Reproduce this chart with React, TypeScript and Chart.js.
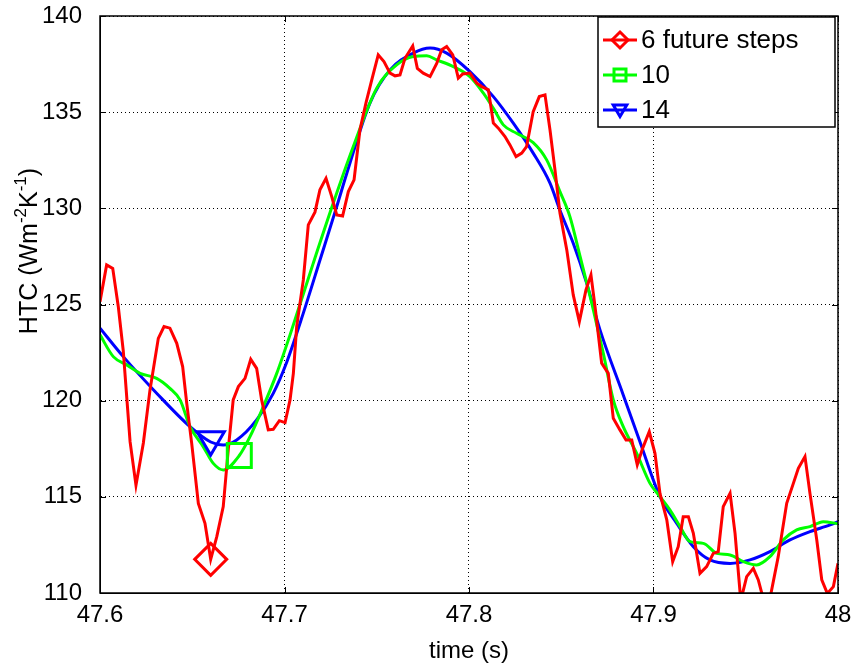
import React, { useEffect, useRef } from "react";
import { Chart, registerables } from "chart.js";

Chart.register(...registerables);

// ---------- data ----------
const seriesLabels = ["6 future steps", "10", "14"];
const seriesColors = ["#ff0000", "#00ff00", "#0000ff"];
const markerShapes = ["diamond", "square", "triangleDown"];
const markerTimes = [47.66, 47.6755, 47.66];

const xTicks = [47.6, 47.7, 47.8, 47.9, 48];
const yTicks = [110, 115, 120, 125, 130, 135, 140];
const xTitle = "time (s)";

const redTime = [
  47.6, 47.6036, 47.6069, 47.6099, 47.6126, 47.6163, 47.6195, 47.6235, 47.6271, 47.6316,
  47.6347, 47.6379, 47.6416, 47.6448, 47.647, 47.6497, 47.6533, 47.6569, 47.66, 47.6633,
  47.6668, 47.6695, 47.6722, 47.675, 47.6786, 47.6817, 47.6849, 47.6876, 47.6912, 47.6939,
  47.6972, 47.7003, 47.703, 47.7048, 47.7066, 47.7102, 47.7129, 47.7165, 47.7192, 47.7225,
  47.7256, 47.7283, 47.7315, 47.7346, 47.7377, 47.7409, 47.7442, 47.7473, 47.7508, 47.7539,
  47.7572, 47.7599, 47.7626, 47.7653, 47.7695, 47.772, 47.7752, 47.7789, 47.7825, 47.7852,
  47.7879, 47.7912, 47.7942, 47.7966, 47.8005, 47.8042, 47.8069, 47.8105, 47.8132, 47.8159,
  47.8195, 47.8222, 47.8255, 47.8286, 47.8312, 47.8348, 47.8381, 47.8412, 47.8439, 47.8466,
  47.8493, 47.853, 47.8565, 47.8598, 47.8634, 47.8661, 47.8683, 47.8719, 47.8755, 47.8782,
  47.8818, 47.8851, 47.8882, 47.8912, 47.8941, 47.8977, 47.9008, 47.9035, 47.9072, 47.9104,
  47.9134, 47.9161, 47.9189, 47.9216, 47.9252, 47.9288, 47.9324, 47.9351, 47.9378, 47.9415,
  47.9442, 47.9473, 47.9505, 47.9541, 47.9568, 47.9595, 47.9631, 47.9676, 47.9722, 47.9758,
  47.9785, 47.9821, 47.9848, 47.9885, 47.9912, 47.9942, 47.9975, 48.0,
];
const redHTC = [
  125.15, 127.06, 126.88, 124.9, 122.6, 117.87, 115.6, 117.8, 120.56, 123.24,
  123.85, 123.77, 122.98, 121.77, 119.87, 117.78, 114.66, 113.62, 111.75, 112.93,
  114.49, 117.44, 120.04, 120.73, 121.16, 122.15, 121.68, 120.04, 118.48, 118.51,
  118.96, 118.86, 120.04, 121.42, 123.85, 126.28, 129.14, 129.8, 130.96, 131.56,
  130.61, 129.66, 129.6, 130.87, 131.48, 134.08, 135.5, 136.68, 137.98, 137.63,
  137.03, 136.89, 136.94, 137.8, 138.44, 137.28, 137.03, 136.85, 137.54, 138.24,
  138.41, 137.98, 136.77, 136.99, 137.03, 136.51, 136.33, 136.16, 134.43, 134.17,
  133.73, 133.3, 132.69, 132.87, 133.21, 135.03, 135.81, 135.9, 134.08, 132.0,
  129.75, 127.84, 125.5, 124.11, 125.76, 126.54, 124.9, 121.95, 121.42, 119.08,
  118.48, 117.96, 117.96, 116.66, 117.52, 118.39, 117.26, 115.18, 113.8, 111.63,
  112.41, 113.97, 113.97, 113.1, 111.02, 111.37, 112.06, 112.15, 114.49, 115.18,
  113.1, 109.6, 110.85, 111.28, 110.68, 109.7, 109.7, 111.89, 114.66, 115.7,
  116.48, 117.09, 115.18, 112.76, 110.68, 109.98, 110.33, 111.54,
];

const greenTime = [
  47.6, 47.6072, 47.6145, 47.6217, 47.6307, 47.6379, 47.6434, 47.6488, 47.656, 47.6614,
  47.6668, 47.6755, 47.6813, 47.6885, 47.6958, 47.7039, 47.7156, 47.7264, 47.7373, 47.75,
  47.7608, 47.7698, 47.7771, 47.7825, 47.7915, 47.8005, 47.8078, 47.8132, 47.8186, 47.8258,
  47.8348, 47.8421, 47.8493, 47.8547, 47.8602, 47.8674, 47.8728, 47.8782, 47.8836, 47.8909,
  47.8981, 47.9035, 47.9089, 47.9144, 47.9198, 47.927, 47.9343, 47.9415, 47.9487, 47.9559,
  47.9631, 47.9703, 47.9776, 47.9848, 47.992, 48.0,
];
const greenHTC = [
  123.42, 122.29, 121.86, 121.42, 121.16, 120.64, 120.04, 118.65, 117.6, 116.74,
  116.4, 117.15, 118.13, 119.69, 121.42, 123.68, 127.15, 130.26, 133.21, 136.25,
  137.46, 137.89, 137.93, 137.72, 137.37, 136.85, 135.99, 135.2, 134.34, 133.9,
  133.42, 132.52, 130.87, 129.57, 127.5, 124.72, 122.46, 120.04, 118.65, 117.26,
  115.7, 115.01, 114.32, 113.45, 112.67, 112.58, 112.06, 111.98, 111.63, 111.46,
  111.89, 112.76, 113.28, 113.45, 113.71, 113.6,
];

const blueTime = [
  47.6, 47.6126, 47.6307, 47.6488, 47.66, 47.6668, 47.6741, 47.6849, 47.6939, 47.7012,
  47.7102, 47.7192, 47.7283, 47.7337, 47.7463, 47.7572, 47.7698, 47.7789, 47.7879, 47.8005,
  47.8132, 47.824, 47.8348, 47.8439, 47.8493, 47.8565, 47.8638, 47.871, 47.8836, 47.8927,
  47.9035, 47.9126, 47.9216, 47.9306, 47.9415, 47.9523, 47.9631, 47.974, 47.9848, 47.9957,
  48.0,
];
const blueHTC = [
  123.77, 122.29, 120.39, 118.65, 117.85, 117.7, 117.96, 119.0, 120.38, 122.0,
  124.55, 127.3, 130.09, 131.8, 135.47, 137.2, 138.07, 138.33, 138.07, 137.11,
  135.81, 134.43, 132.87, 131.31, 129.9, 128.18, 126.1, 123.68, 120.3, 117.85,
  115.01, 113.62, 112.41, 111.72, 111.54, 111.72, 112.15, 112.76, 113.19, 113.54,
  113.71,
];

const FONT = "'Liberation Sans', Arial, Helvetica, sans-serif";

function toPoints(t: number[], v: number[]) {
  return t.map((x, i) => ({ x, y: v[i] }));
}

function drawMarker(ctx: CanvasRenderingContext2D, shape: string, x: number, y: number, r: number) {
  ctx.beginPath();
  if (shape === "diamond") {
    ctx.moveTo(x, y - r);
    ctx.lineTo(x + r, y);
    ctx.lineTo(x, y + r);
    ctx.lineTo(x - r, y);
    ctx.closePath();
  } else if (shape === "square") {
    const h = r * 0.75;
    ctx.rect(x - h, y - h, 2 * h, 2 * h);
  } else {
    const h = r * 0.85;
    ctx.moveTo(x - h, y - h * 0.75);
    ctx.lineTo(x + h, y - h * 0.75);
    ctx.lineTo(x, y + h * 0.95);
    ctx.closePath();
  }
  ctx.stroke();
}

const series = [
  { t: redTime, v: redHTC, smooth: false },
  { t: greenTime, v: greenHTC, smooth: true },
  { t: blueTime, v: blueHTC, smooth: true },
];

const overlayPlugin = {
  id: "matlabOverlay",
  afterDatasetsDraw(chart: any) {
    const { ctx, chartArea: a, scales } = chart;
    const xs = scales.x;
    const ys = scales.y;
    ctx.save();
    // plot markers (one per series)
    ctx.lineWidth = 3;
    ctx.lineJoin = "miter";
    series.forEach((s, i) => {
      const idx = s.t.indexOf(markerTimes[i]);
      if (idx < 0) return;
      const px = xs.getPixelForValue(s.t[idx]);
      const py = ys.getPixelForValue(s.v[idx]);
      ctx.strokeStyle = seriesColors[i];
      drawMarker(ctx, markerShapes[i], px, py, 16);
    });
    // axes box
    ctx.strokeStyle = "#000";
    ctx.lineWidth = 1.5;
    ctx.strokeRect(a.left, a.top, a.right - a.left, a.bottom - a.top);
    // inward ticks
    ctx.lineWidth = 1;
    const tl = 6;
    xTicks.forEach((v) => {
      const px = Math.round(xs.getPixelForValue(v)) + 0.5;
      ctx.beginPath();
      ctx.moveTo(px, a.bottom);
      ctx.lineTo(px, a.bottom - tl);
      ctx.moveTo(px, a.top);
      ctx.lineTo(px, a.top + tl);
      ctx.stroke();
    });
    yTicks.forEach((v) => {
      const py = Math.round(ys.getPixelForValue(v)) + 0.5;
      ctx.beginPath();
      ctx.moveTo(a.left, py);
      ctx.lineTo(a.left + tl, py);
      ctx.moveTo(a.right, py);
      ctx.lineTo(a.right - tl, py);
      ctx.stroke();
    });
    // legend
    const lx = 598, ly = 17, lw = 237, lh = 110;
    ctx.fillStyle = "#fff";
    ctx.fillRect(lx, ly, lw, lh);
    ctx.strokeStyle = "#000";
    ctx.lineWidth = 1.5;
    ctx.strokeRect(lx, ly, lw, lh);
    const rowY = [40, 75, 110];
    ctx.font = `26px ${FONT}`;
    ctx.textBaseline = "middle";
    ctx.textAlign = "left";
    seriesLabels.forEach((lab, i) => {
      const y = rowY[i];
      ctx.strokeStyle = seriesColors[i];
      ctx.lineWidth = 3;
      ctx.beginPath();
      ctx.moveTo(603, y);
      ctx.lineTo(637, y);
      ctx.stroke();
      drawMarker(ctx, markerShapes[i], 620, y, 8);
      ctx.fillStyle = "#000";
      ctx.fillText(lab, 641, y + 1);
    });
    ctx.restore();
  },
  afterDraw(chart: any) {
    const { ctx, chartArea: a } = chart;
    ctx.save();
    ctx.fillStyle = "#000";
    // x title
    ctx.font = `24px ${FONT}`;
    ctx.textAlign = "center";
    ctx.textBaseline = "middle";
    ctx.fillText(xTitle, (a.left + a.right) / 2, 651);
    // y title with superscripts
    const main = `25px ${FONT}`;
    const sup = `17px ${FONT}`;
    const parts: [string, boolean][] = [
      ["HTC (Wm", false],
      ["-2", true],
      ["K", false],
      ["-1", true],
      [")", false],
    ];
    let total = 0;
    const widths = parts.map(([s, isSup]) => {
      ctx.font = isSup ? sup : main;
      const w = ctx.measureText(s).width;
      total += w;
      return w;
    });
    ctx.translate(37, 251);
    ctx.rotate(-Math.PI / 2);
    ctx.textAlign = "left";
    ctx.textBaseline = "alphabetic";
    let cx = -total / 2;
    parts.forEach(([s, isSup], i) => {
      ctx.font = isSup ? sup : main;
      ctx.fillText(s, cx, isSup ? -11 : 0);
      cx += widths[i];
    });
    ctx.restore();
  },
};

export default function App() {
  const ref = useRef<HTMLCanvasElement | null>(null);
  useEffect(() => {
    if (!ref.current) return;
    const chart = new Chart(ref.current, {
      type: "line",
      data: {
        datasets: series.map((s, i) => ({
          label: seriesLabels[i],
          data: toPoints(s.t, s.v),
          borderColor: seriesColors[i],
          backgroundColor: seriesColors[i],
          borderWidth: 3,
          pointRadius: 0,
          fill: false,
          tension: 0,
          cubicInterpolationMode: s.smooth ? "monotone" : "default",
          borderJoinStyle: "miter",
        })),
      },
      options: {
        animation: false,
        responsive: false,
        events: [],
        layout: { padding: { left: 0, right: 18, top: 16, bottom: 0 } },
        plugins: {
          legend: { display: false },
          tooltip: { enabled: false },
        },
        scales: {
          x: {
            type: "linear",
            min: 47.6,
            max: 48,
            afterBuildTicks: (scale: any) => {
              scale.ticks = xTicks.map((v) => ({ value: v }));
            },
            afterFit: (scale: any) => {
              scale.height = 75;
              scale.paddingLeft = 0;
              scale.paddingRight = 0;
            },
            ticks: {
              color: "#000",
              font: { family: FONT, size: 24 },
              padding: 8,
              maxRotation: 0,
              callback: (v: any) => String(Number(Number(v).toFixed(1))),
            },
            grid: { color: "#000", lineWidth: 1, drawTicks: false },
            border: { display: true, color: "#000", width: 1, dash: [1, 3] },
          },
          y: {
            type: "linear",
            min: 110,
            max: 140,
            afterBuildTicks: (scale: any) => {
              scale.ticks = yTicks.map((v) => ({ value: v }));
            },
            afterFit: (scale: any) => {
              scale.width = 100;
              scale.paddingTop = 0;
              scale.paddingBottom = 0;
            },
            ticks: {
              color: "#000",
              font: { family: FONT, size: 24 },
              padding: 18,
              callback: (v: any) => String(v),
            },
            grid: { color: "#000", lineWidth: 1, drawTicks: false },
            border: { display: true, color: "#000", width: 1, dash: [1, 3] },
          },
        },
      },
      plugins: [overlayPlugin],
    } as any);
    return () => chart.destroy();
  }, []);
  return (
    <div style={{ position: "absolute", left: 0, top: 0, width: 856, height: 668, background: "#fff" }}>
      <canvas ref={ref} width={856} height={668} style={{ display: "block" }} />
    </div>
  );
}
